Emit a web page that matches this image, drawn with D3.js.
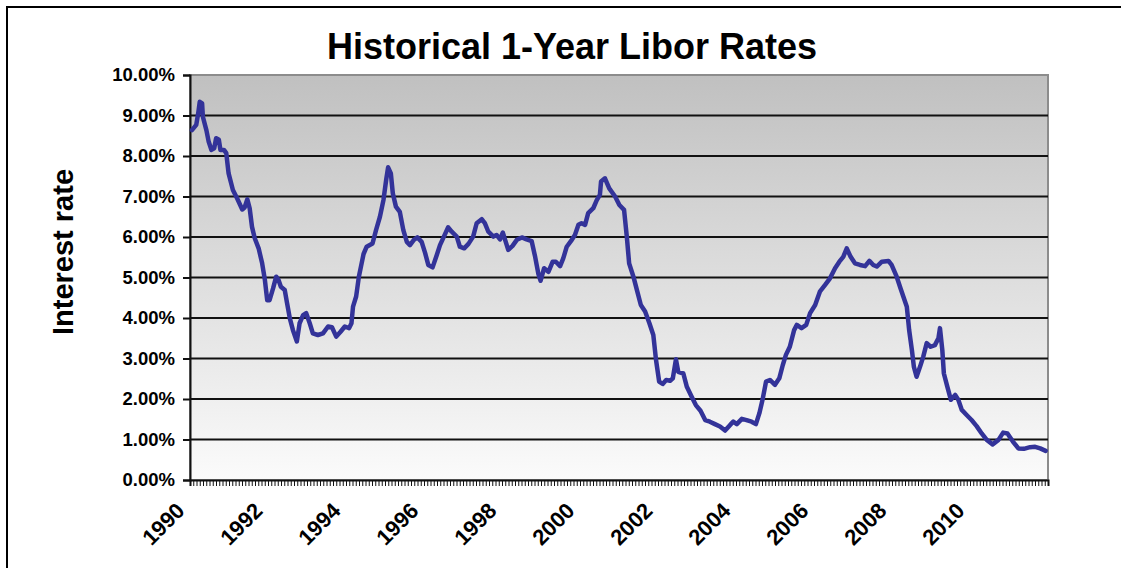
<!DOCTYPE html>
<html>
<head>
<meta charset="utf-8">
<script src="https://cdn.jsdelivr.net/npm/d3@7"></script>
<style>
  html, body { margin: 0; padding: 0; background: #fff; }
  svg { display: block; font-family: "Liberation Sans", Arial, sans-serif; }
</style>
</head>
<body>
<svg id="chart"></svg>
<script>
// Data (decimal year, rate in %)
const years = [
  1990.05, 1990.16, 1990.21, 1990.25, 1990.31, 1990.33, 1990.42, 1990.48, 1990.55, 1990.62,
  1990.67, 1990.74, 1990.78, 1990.87, 1990.93, 1990.99, 1991.10, 1991.21, 1991.34, 1991.40,
  1991.47, 1991.53, 1991.59, 1991.66, 1991.76, 1991.85, 1991.92, 1991.98, 1992.04, 1992.13,
  1992.21, 1992.27, 1992.33, 1992.43, 1992.49, 1992.56, 1992.64, 1992.74, 1992.81, 1992.90,
  1992.98, 1993.07, 1993.15, 1993.28, 1993.41, 1993.54, 1993.64, 1993.75, 1993.86, 1993.97,
  1994.08, 1994.14, 1994.18, 1994.26, 1994.33, 1994.39, 1994.45, 1994.53, 1994.68, 1994.77,
  1994.87, 1994.96, 1995.03, 1995.08, 1995.15, 1995.20, 1995.28, 1995.38, 1995.47, 1995.56,
  1995.64, 1995.74, 1995.83, 1995.94, 1996.03, 1996.11, 1996.22, 1996.33, 1996.41, 1996.51,
  1996.62, 1996.71, 1996.84, 1996.92, 1997.03, 1997.14, 1997.26, 1997.35, 1997.48, 1997.56,
  1997.65, 1997.78, 1997.86, 1997.95, 1998.02, 1998.08, 1998.16, 1998.27, 1998.38, 1998.51,
  1998.63, 1998.76, 1998.85, 1998.93, 1998.99, 1999.08, 1999.19, 1999.30, 1999.38, 1999.49,
  1999.57, 1999.66, 1999.79, 1999.87, 1999.96, 2000.04, 2000.13, 2000.21, 2000.34, 2000.43,
  2000.51, 2000.54, 2000.64, 2000.75, 2000.90, 2001.01, 2001.13, 2001.20, 2001.26, 2001.37,
  2001.47, 2001.56, 2001.67, 2001.78, 2001.88, 2001.95, 2002.03, 2002.12, 2002.21, 2002.31,
  2002.38, 2002.46, 2002.52, 2002.65, 2002.74, 2002.86, 2002.97, 2003.09, 2003.21, 2003.33,
  2003.46, 2003.59, 2003.72, 2003.85, 2003.93, 2004.02, 2004.15, 2004.27, 2004.40, 2004.51,
  2004.60, 2004.68, 2004.77, 2004.87, 2005.00, 2005.11, 2005.20, 2005.28, 2005.38, 2005.49,
  2005.56, 2005.68, 2005.80, 2005.90, 2006.03, 2006.15, 2006.28, 2006.41, 2006.54, 2006.65,
  2006.75, 2006.84, 2006.94, 2007.05, 2007.18, 2007.31, 2007.42, 2007.52, 2007.61, 2007.74,
  2007.91, 2007.99, 2008.12, 2008.22, 2008.29, 2008.38, 2008.44, 2008.51, 2008.56, 2008.63,
  2008.72, 2008.80, 2008.89, 2008.99, 2009.10, 2009.19, 2009.23, 2009.29, 2009.33, 2009.42,
  2009.51, 2009.62, 2009.70, 2009.79, 2009.92, 2010.04, 2010.17, 2010.30, 2010.43, 2010.58,
  2010.73, 2010.85, 2010.96, 2011.10, 2011.24, 2011.38, 2011.54, 2011.67, 2011.80, 2011.94
];
const rates = [
  8.64, 8.77, 9.05, 9.34, 9.30, 8.97, 8.64, 8.35, 8.15, 8.19,
  8.44, 8.40, 8.15, 8.15, 8.07, 7.57, 7.16, 6.95, 6.68, 6.73,
  6.93, 6.71, 6.25, 5.97, 5.72, 5.35, 4.94, 4.44, 4.44, 4.73,
  5.02, 4.94, 4.77, 4.69, 4.36, 3.99, 3.70, 3.42, 3.87, 4.07,
  4.12, 3.87, 3.62, 3.58, 3.62, 3.79, 3.77, 3.54, 3.66, 3.79,
  3.75, 3.87, 4.28, 4.53, 5.02, 5.30, 5.58, 5.76, 5.84, 6.17,
  6.50, 6.91, 7.41, 7.72, 7.57, 7.08, 6.75, 6.62, 6.17, 5.88,
  5.80, 5.93, 5.99, 5.88, 5.60, 5.31, 5.25, 5.56, 5.80, 6.01,
  6.24, 6.13, 6.01, 5.76, 5.72, 5.83, 6.01, 6.34, 6.44, 6.34,
  6.13, 6.01, 6.05, 5.94, 6.11, 5.93, 5.68, 5.78, 5.93, 5.99,
  5.94, 5.90, 5.51, 5.10, 4.92, 5.23, 5.14, 5.39, 5.39, 5.28,
  5.47, 5.76, 5.93, 6.05, 6.30, 6.34, 6.30, 6.59, 6.71, 6.91,
  7.04, 7.37, 7.45, 7.20, 7.00, 6.79, 6.67, 6.01, 5.35, 5.02,
  4.65, 4.32, 4.16, 3.87, 3.58, 2.96, 2.43, 2.37, 2.47, 2.45,
  2.51, 2.98, 2.67, 2.63, 2.30, 2.06, 1.85, 1.71, 1.48, 1.44,
  1.38, 1.32, 1.22, 1.36, 1.44, 1.38, 1.51, 1.48, 1.44, 1.38,
  1.65, 1.98, 2.43, 2.47, 2.35, 2.51, 2.84, 3.09, 3.29, 3.70,
  3.83, 3.75, 3.83, 4.12, 4.32, 4.65, 4.81, 4.98, 5.23, 5.39,
  5.51, 5.72, 5.51, 5.35, 5.31, 5.28, 5.41, 5.31, 5.27, 5.39,
  5.41, 5.31, 5.02, 4.73, 4.53, 4.28, 3.70, 3.21, 2.80, 2.55,
  2.80, 3.04, 3.38, 3.29, 3.33, 3.50, 3.75, 3.21, 2.63, 2.30,
  1.98, 2.10, 1.98, 1.73, 1.60, 1.48, 1.33, 1.15, 0.99, 0.88,
  0.99, 1.17, 1.15, 0.95, 0.78, 0.77, 0.81, 0.82, 0.78, 0.72
];
const yTicks = [0, 1, 2, 3, 4, 5, 6, 7, 8, 9, 10];
const xLabels = [1990, 1992, 1994, 1996, 1998, 2000, 2002, 2004, 2006, 2008, 2010];

const W = 1121, H = 568;
const plot = { left: 190, right: 1048, top: 75, bottom: 480 };

const svg = d3.select('#chart').attr('width', W).attr('height', H);

// outer chart frame (runs off the right/bottom edge like the picture)
svg.append('rect')
    .attr('x', 7).attr('y', 7)
    .attr('width', 1125).attr('height', 580)
    .attr('fill', '#fff')
    .attr('stroke', '#000')
    .attr('stroke-width', 2);

// title
svg.append('text')
    .attr('x', 572).attr('y', 59)
    .attr('text-anchor', 'middle')
    .attr('font-size', 36)
    .attr('font-weight', 'bold')
    .text('Historical 1-Year Libor Rates');

const x = d3.scaleLinear().domain([1990, 2012]).range([plot.left, plot.right]);
const y = d3.scaleLinear().domain([0, 10]).range([plot.bottom, plot.top]);

// plot background gradient
const grad = svg.append('defs').append('linearGradient')
    .attr('id', 'bg').attr('x1', 0).attr('y1', 0).attr('x2', 0).attr('y2', 1);
grad.append('stop').attr('offset', '0%').attr('stop-color', '#c0c0c0');
grad.append('stop').attr('offset', '100%').attr('stop-color', '#fbfbfb');

svg.append('rect')
    .attr('x', plot.left).attr('y', plot.top)
    .attr('width', plot.right - plot.left).attr('height', plot.bottom - plot.top)
    .attr('fill', 'url(#bg)')
    .attr('stroke', '#8c8c8c')
    .attr('stroke-width', 2);

// gridlines
svg.append('g')
    .selectAll('line')
    .data(yTicks.slice(1, -1))
    .join('line')
    .attr('x1', plot.left).attr('x2', plot.right)
    .attr('y1', d => y(d)).attr('y2', d => y(d))
    .attr('stroke', '#111')
    .attr('stroke-width', 2);

// y axis
const yAxis = svg.append('g')
    .attr('transform', `translate(${plot.left},0)`)
    .call(d3.axisLeft(y).tickValues(yTicks).tickSize(7).tickPadding(8)
        .tickFormat(d => d.toFixed(2) + '%'));
yAxis.select('.domain').attr('stroke', '#111').attr('stroke-width', 2);
yAxis.selectAll('.tick line').attr('stroke', '#111').attr('stroke-width', 2);
yAxis.selectAll('.tick text')
    .attr('font-size', 18.5).attr('font-weight', 'bold').attr('fill', '#000')
    .attr('font-family', '"Liberation Sans", Arial, sans-serif');

// x axis: monthly minor ticks
const monthTicks = d3.range(0, 22 * 12 + 1).map(i => 1990 + i / 12);
const xAxis = svg.append('g')
    .attr('transform', `translate(0,${plot.bottom})`)
    .call(d3.axisBottom(x).tickValues(monthTicks).tickSize(6).tickFormat(''));
xAxis.select('.domain').attr('stroke', '#111').attr('stroke-width', 2);
xAxis.selectAll('.tick line').attr('stroke', '#111').attr('stroke-width', 1);

// rotated year labels
svg.append('g')
    .selectAll('text')
    .data(xLabels)
    .join('text')
    .attr('transform', d => `translate(${x(d) - 4},512) rotate(-45)`)
    .attr('text-anchor', 'end')
    .attr('font-size', 22)
    .attr('font-weight', 'bold')
    .text(d => d);

// y axis title
svg.append('text')
    .attr('transform', 'translate(73,252) rotate(-90)')
    .attr('text-anchor', 'middle')
    .attr('font-size', 29)
    .attr('font-weight', 'bold')
    .text('Interest rate');

// the rate line
const line = d3.line()
    .x((d, i) => x(years[i]))
    .y(d => y(d));

svg.append('path')
    .datum(rates)
    .attr('fill', 'none')
    .attr('stroke', '#333399')
    .attr('stroke-width', 4.5)
    .attr('stroke-linejoin', 'round')
    .attr('stroke-linecap', 'round')
    .attr('d', line);
</script>
</body>
</html>
